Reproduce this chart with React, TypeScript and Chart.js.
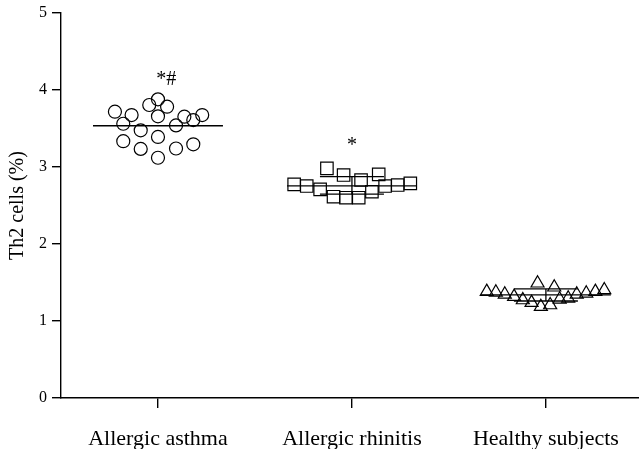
import React, { useEffect, useRef } from "react";
import { Chart, registerables } from "chart.js";

Chart.register(...registerables);

// ---- data ----
const categories = ["Allergic asthma", "Allergic rhinitis", "Healthy subjects"];
const yTickValues = [0, 1, 2, 3, 4, 5];
const yTitle = "Th2 cells (%)";

// jitter offsets (category units) and values (%)
const asthmaOffsets = [0, -0.045, 0.047, -0.222, -0.136, 0, 0.136, 0.228, 0.182, -0.179, 0.093, -0.089, 0, -0.179, 0.182, -0.089, 0.093, 0];
const asthmaValues = [3.879, 3.805, 3.783, 3.718, 3.675, 3.658, 3.653, 3.675, 3.61, 3.562, 3.54, 3.476, 3.39, 3.335, 3.295, 3.235, 3.24, 3.12];

const rhinitisOffsets = [-0.298, -0.233, -0.164, -0.129, -0.095, -0.043, -0.031, 0.035, 0.047, 0.103, 0.138, 0.171, 0.236, 0.301];
const rhinitisValues = [2.775, 2.753, 2.71, 2.983, 2.614, 2.896, 2.601, 2.601, 2.831, 2.679, 2.905, 2.753, 2.766, 2.788];

const healthyOffsets = [-0.305, -0.258, -0.212, -0.164, -0.119, -0.074, -0.026, -0.043, 0.022, 0.043, 0.071, 0.115, 0.159, 0.208, 0.255, 0.301];
const healthyValues = [1.381, 1.373, 1.347, 1.316, 1.273, 1.238, 1.186, 1.49, 1.208, 1.438, 1.282, 1.295, 1.347, 1.36, 1.381, 1.403];

const groupMeans = [3.536, 2.755, 1.338];
const groupSdUpper = [null, 2.874, 1.416];
const groupSdLower = [null, 2.647, 1.26];

const annotationTexts = ["*#", "*"];
const annotationX = [1.043, 2.0];
const annotationY = [4.065, 3.208];

// ---- styling ----
const FONT = "'Liberation Serif', 'Times New Roman', serif";
const INK = "#000";
const MEAN_HALF = 0.335;
const CAP_HALF = 0.165;

function pts(center: number, offs: number[], vals: number[]) {
  return vals.map((v, i) => ({ x: center + offs[i], y: v }));
}

function seg(x1: number, y1: number, x2: number, y2: number) {
  return {
    type: "scatter" as const,
    data: [
      { x: x1, y: y1 },
      { x: x2, y: y2 },
    ],
    showLine: true,
    borderColor: INK,
    borderWidth: 1.3,
    pointRadius: 0,
    fill: false,
  };
}

const annotationPlugin = {
  id: "annotations",
  afterDatasetsDraw(chart: any) {
    const { ctx, scales } = chart;
    ctx.save();
    ctx.fillStyle = INK;
    ctx.font = `20px ${FONT}`;
    ctx.textAlign = "center";
    ctx.textBaseline = "alphabetic";
    annotationTexts.forEach((t, i) => {
      ctx.fillText(t, scales.x.getPixelForValue(annotationX[i]), scales.y.getPixelForValue(annotationY[i]));
    });
    ctx.restore();
  },
};

export default function App() {
  const ref = useRef<HTMLCanvasElement | null>(null);

  useEffect(() => {
    if (!ref.current) return;
    const markerStyles = ["circle", "rect", "triangle"];
    const markerRadius = [6.5, 8.8, 7.5];
    const groups = [
      pts(1, asthmaOffsets, asthmaValues),
      pts(2, rhinitisOffsets, rhinitisValues),
      pts(3, healthyOffsets, healthyValues),
    ];

    const datasets: any[] = [];
    groups.forEach((g, i) => {
      datasets.push({
        type: "scatter",
        data: g,
        pointStyle: markerStyles[i],
        pointRadius: markerRadius[i],
        pointBorderColor: INK,
        pointBackgroundColor: "rgba(0,0,0,0)",
        pointBorderWidth: 1.2,
        showLine: false,
      });
    });
    groupMeans.forEach((m, i) => {
      const c = i + 1;
      datasets.push(seg(c - MEAN_HALF, m, c + MEAN_HALF, m));
      const up = groupSdUpper[i];
      const lo = groupSdLower[i];
      if (up != null && lo != null) {
        datasets.push(seg(c - CAP_HALF, up, c + CAP_HALF, up));
        datasets.push(seg(c - CAP_HALF, lo, c + CAP_HALF, lo));
        datasets.push(seg(c, lo, c, up));
      }
    });

    const chart = new Chart(ref.current, {
      type: "scatter",
      data: { datasets },
      plugins: [annotationPlugin],
      options: {
        animation: false,
        responsive: false,
        maintainAspectRatio: false,
        layout: { autoPadding: false, padding: { top: 13, right: 0, left: 0, bottom: 0 } },
        plugins: { legend: { display: false }, tooltip: { enabled: false } },
        scales: {
          x: {
            type: "linear",
            min: 0.5,
            max: 3.48,
            afterBuildTicks: (s: any) => {
              s.ticks = categories.map((_, i) => ({ value: i + 1 }));
            },
            afterFit: (s: any) => {
              s.height = 51;
              s.paddingLeft = 0;
              s.paddingRight = 0;
            },
            ticks: {
              callback: (v: any) => categories[Math.round(Number(v)) - 1] ?? "",
              font: { family: FONT, size: 22 },
              color: INK,
              padding: 18,
              maxRotation: 0,
              autoSkip: false,
            },
            grid: { drawOnChartArea: false, drawTicks: true, tickLength: 10, color: INK, lineWidth: 1.4 },
            border: { display: true, color: INK, width: 1.4 },
          },
          y: {
            min: 0,
            max: 5,
            afterBuildTicks: (s: any) => {
              s.ticks = yTickValues.map((v) => ({ value: v }));
            },
            afterFit: (s: any) => {
              s.width = 61;
              s.paddingTop = 0;
              s.paddingBottom = 0;
            },
            ticks: {
              font: { family: FONT, size: 16 },
              color: INK,
              padding: 5,
            },
            title: {
              display: true,
              text: yTitle,
              font: { family: FONT, size: 20 },
              color: INK,
              padding: { top: 6, bottom: 0 },
            },
            grid: { drawOnChartArea: false, drawTicks: true, tickLength: 9, color: INK, lineWidth: 1.4 },
            border: { display: true, color: INK, width: 1.4 },
          },
        },
      },
    } as any);
    return () => chart.destroy();
  }, []);

  return (
    <div style={{ position: "fixed", left: 0, top: 0, width: 639, height: 449, background: "#fff" }}>
      <canvas ref={ref} width={639} height={449} style={{ display: "block", width: 639, height: 449 }} />
    </div>
  );
}
